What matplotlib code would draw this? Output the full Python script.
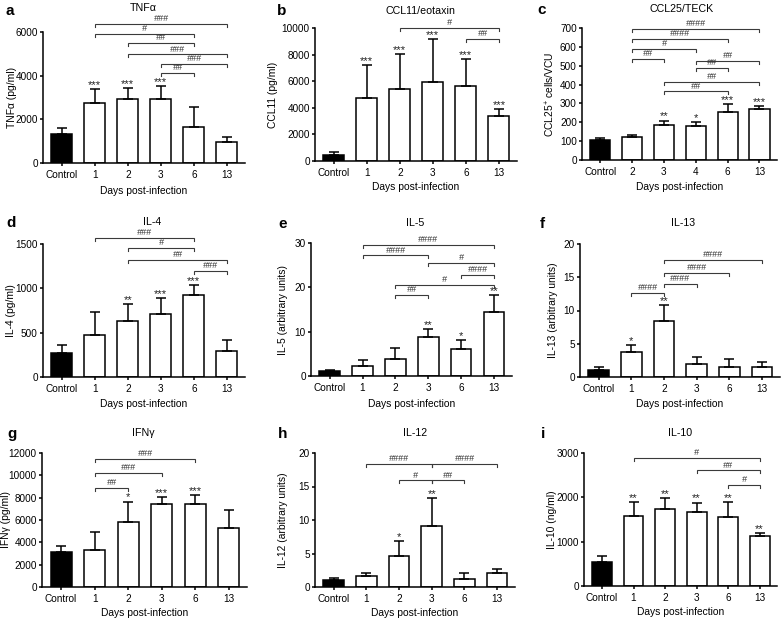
import numpy as np
import matplotlib
matplotlib.use('Agg')
import matplotlib.pyplot as plt

plt.rcParams['font.family'] = ['Liberation Sans', 'DejaVu Sans']
plt.rcParams['mathtext.fontset'] = 'custom'
plt.rcParams['mathtext.rm'] = 'Liberation Sans'
plt.rcParams['mathtext.it'] = 'Liberation Sans:italic'
plt.rcParams['mathtext.bf'] = 'Liberation Sans:bold'

# ---------------- data ----------------
days_std = ['Control', '1', '2', '3', '6', '13']
days_ccl25 = ['Control', '2', '3', '4', '6', '13']

tnf_mean = [1340, 2770, 2950, 2920, 1670, 940]
tnf_err = [260, 600, 470, 610, 880, 230]
tnf_stars = ['', '***', '***', '***', '', '']
tnf_comp = [(1, 5, '###'), (1, 4, '#'), (2, 4, '##'), (2, 5, '###'), (3, 5, '###'), (3, 4, '##')]
tnf_comp_y = [6380, 5920, 5500, 4970, 4555, 4130]

ccl11_mean = [480, 4760, 5420, 5920, 5640, 3375]
ccl11_err = [200, 2440, 2640, 3250, 2015, 530]
ccl11_stars = ['', '***', '***', '***', '***', '***']
ccl11_comp = [(2, 5, '#'), (4, 5, '##')]
ccl11_comp_y = [10000, 9170]

ccl25_mean = [108, 120, 187, 178, 255, 269]
ccl25_err = [10, 10, 22, 22, 42, 17]
ccl25_stars = ['', '', '**', '*', '***', '***']
ccl25_comp = [(1, 5, '####'), (1, 4, '####'), (1, 3, '#'), (1, 2, '##'), (3, 5, '##'),
              (3, 4, '##'), (2, 5, '##'), (2, 4, '##')]
ccl25_comp_y = [695, 643, 589, 536, 527, 488, 412, 364]

il4_mean = [267, 477, 628, 711, 925, 297]
il4_err = [98, 260, 192, 176, 113, 120]
il4_stars = ['', '', '**', '***', '***', '']
il4_comp = [(1, 4, '###'), (2, 4, '#'), (2, 5, '##'), (4, 5, '###')]
il4_comp_y = [1568, 1455, 1323, 1200]

il5_mean = [1.1, 2.3, 3.8, 8.9, 6.0, 14.5]
il5_err = [0.3, 1.2, 2.6, 1.6, 2.1, 3.7]
il5_stars = ['', '', '', '**', '*', '**']
il5_comp = [(1, 5, '####'), (1, 3, '####'), (3, 5, '#'), (4, 5, '####'), (2, 5, '#'), (2, 3, '##')]
il5_comp_y = [29.5, 27.2, 25.5, 22.8, 20.6, 18.2]

il13_mean = [1.0, 3.8, 8.45, 2.0, 1.5, 1.5]
il13_err = [0.55, 1.05, 2.35, 0.95, 1.15, 0.75]
il13_stars = ['', '*', '**', '', '', '']
il13_comp = [(2, 5, '####'), (2, 4, '####'), (2, 3, '####'), (1, 2, '####')]
il13_comp_y = [17.6, 15.6, 14.0, 12.6]

ifng_mean = [3150, 3330, 5820, 7410, 7410, 5250]
ifng_err = [540, 1560, 1830, 630, 810, 1620]
ifng_stars = ['', '', '*', '***', '***', '']
ifng_comp = [(1, 4, '###'), (1, 3, '###'), (1, 2, '##')]
ifng_comp_y = [11460, 10200, 8850]

il12_mean = [1.0, 1.65, 4.6, 9.15, 1.25, 2.1]
il12_err = [0.35, 0.45, 2.2, 4.1, 0.9, 0.6]
il12_stars = ['', '', '*', '**', '', '']
il12_comp = [(1, 3, '####'), (3, 5, '####'), (2, 3, '#'), (3, 4, '##')]
il12_comp_y = [18.35, 18.35, 15.9, 15.9]

il10_mean = [535, 1568, 1748, 1673, 1552, 1130]
il10_err = [150, 330, 240, 210, 340, 60]
il10_stars = ['', '**', '**', '**', '**', '**']
il10_comp = [(1, 5, '#'), (3, 5, '##'), (4, 5, '#')]
il10_comp_y = [2886, 2607, 2283]

# ---------------- layout ----------------
W, H = 784, 620
fig = plt.figure(figsize=(W / 100, H / 100), dpi=100)

panels = [
    dict(letter='a', title='TNFα', ylabel='TNFα (pg/ml)', cats=days_std, mean=tnf_mean, err=tnf_err,
         stars=tnf_stars, comp=tnf_comp, comp_y=tnf_comp_y, ymax=6000, ystep=2000,
         box=(43, 245, 32, 163), lpos=(6, 15), tpos=(143, 11), ylx=12, xly=191),
    dict(letter='b', title='CCL11/eotaxin', ylabel='CCL11 (pg/ml)', cats=days_std, mean=ccl11_mean, err=ccl11_err,
         stars=ccl11_stars, comp=ccl11_comp, comp_y=ccl11_comp_y, ymax=10000, ystep=2000,
         box=(315, 517, 28, 161), lpos=(277, 15), tpos=(420, 14), ylx=273, xly=187),
    dict(letter='c', title='CCL25/TECK', ylabel='CCL25$^{+}$ cells/VCU', cats=days_ccl25, mean=ccl25_mean, err=ccl25_err,
         stars=ccl25_stars, comp=ccl25_comp, comp_y=ccl25_comp_y, ymax=700, ystep=100,
         box=(582, 777, 28, 160), lpos=(537, 14), tpos=(682, 12), ylx=550, xly=187),
    dict(letter='d', title='IL-4', ylabel='IL-4 (pg/ml)', cats=days_std, mean=il4_mean, err=il4_err,
         stars=il4_stars, comp=il4_comp, comp_y=il4_comp_y, ymax=1500, ystep=500,
         box=(43, 245, 244, 377), lpos=(6, 227), tpos=(152, 225), ylx=11, xly=404),
    dict(letter='e', title='IL-5', ylabel='IL-5 (arbitrary units)', cats=days_std, mean=il5_mean, err=il5_err,
         stars=il5_stars, comp=il5_comp, comp_y=il5_comp_y, ymax=30, ystep=10,
         box=(311, 512, 243, 376), lpos=(278, 228), tpos=(415, 226), ylx=283, xly=404),
    dict(letter='f', title='IL-13', ylabel='IL-13 (arbitrary units)', cats=days_std, mean=il13_mean, err=il13_err,
         stars=il13_stars, comp=il13_comp, comp_y=il13_comp_y, ymax=20, ystep=5,
         box=(580, 780, 244, 377), lpos=(540, 228), tpos=(683, 226), ylx=553, xly=404),
    dict(letter='g', title='IFNγ', ylabel='IFNγ (pg/ml)', cats=days_std, mean=ifng_mean, err=ifng_err,
         stars=ifng_stars, comp=ifng_comp, comp_y=ifng_comp_y, ymax=12000, ystep=2000,
         box=(42, 247, 453, 587), lpos=(7, 438), tpos=(143, 436), ylx=6, xly=613),
    dict(letter='h', title='IL-12', ylabel='IL-12 (arbitrary units)', cats=days_std, mean=il12_mean, err=il12_err,
         stars=il12_stars, comp=il12_comp, comp_y=il12_comp_y, ymax=20, ystep=5,
         box=(315, 515, 453, 587), lpos=(278, 438), tpos=(415, 436), ylx=283, xly=613),
    dict(letter='i', title='IL-10', ylabel='IL-10 (ng/ml)', cats=days_std, mean=il10_mean, err=il10_err,
         stars=il10_stars, comp=il10_comp, comp_y=il10_comp_y, ymax=3000, ystep=1000,
         box=(584, 777, 453, 586), lpos=(541, 438), tpos=(680, 436), ylx=552, xly=612),
]

TICK_FS = 7.2
LABEL_FS = 7.4
TITLE_FS = 7.7
LW = 1.1
bracket_col = '#3a3a3a'


def fy(y):
    return 1 - y / H


for p in panels:
    l, r, t, b = p['box']
    ax = fig.add_axes([l / W, 1 - b / H, (r - l) / W, (b - t) / H])
    x = np.arange(len(p['cats']))
    mean = np.array(p['mean'], dtype=float)
    err = np.array(p['err'], dtype=float)
    colors = ['black'] + ['white'] * (len(x) - 1)
    ax.errorbar(x, mean, yerr=[np.zeros_like(err), err], fmt='none', ecolor='black',
                elinewidth=LW, capsize=3.6, capthick=LW, zorder=3, clip_on=False)
    ax.bar(x, mean, width=0.63, color=colors, edgecolor='black', linewidth=LW, zorder=2)

    ax.set_xlim(-0.57, len(x) - 1 + 0.55)
    ax.set_ylim(0, p['ymax'])
    ax.set_yticks(np.arange(0, p['ymax'] + p['ystep'] / 2, p['ystep']))
    ax.set_xticks(x)
    ax.set_xticklabels(p['cats'])
    for s in ['top', 'right']:
        ax.spines[s].set_visible(False)
    for s in ['left', 'bottom']:
        ax.spines[s].set_linewidth(LW)
    ax.tick_params(axis='both', direction='out', length=2.5, width=LW, labelsize=TICK_FS, pad=1.2)
    ax.tick_params(axis='x', pad=2.5)
    ax.patch.set_visible(False)

    # significance stars
    for xi, m, e, s in zip(x, mean, err, p['stars']):
        if s:
            ax.annotate(s, (xi, m + e), xytext=(0, -0.6), textcoords='offset points',
                        ha='center', va='bottom', fontsize=8, color='#222222', annotation_clip=False)

    # comparison brackets
    tick_h = 3.0 / ((b - t)) * p['ymax']
    for (i, j, lab), yv in zip(p['comp'], p['comp_y']):
        ax.plot([i, i, j, j], [yv - tick_h, yv, yv, yv - tick_h], color=bracket_col,
                lw=0.8, clip_on=False, zorder=4, solid_joinstyle='miter')
        ax.annotate(lab, ((i + j) / 2, yv), xytext=(0, 0.6), textcoords='offset points',
                    ha='center', va='bottom', fontsize=6.5, style='italic', color='#333333',
                    annotation_clip=False)

    # texts
    fig.text(p['lpos'][0] / W, fy(p['lpos'][1]), p['letter'], fontsize=11, fontweight='bold',
             ha='left', va='baseline')
    fig.text(p['tpos'][0] / W, fy(p['tpos'][1]), p['title'], fontsize=TITLE_FS, ha='center', va='baseline')
    fig.text(p['ylx'] / W, fy((t + b) / 2), p['ylabel'], fontsize=LABEL_FS, rotation=90,
             ha='center', va='center')
    fig.text(((l + r) / 2) / W, fy(p['xly']), 'Days post-infection', fontsize=LABEL_FS,
             ha='center', va='center')

fig.savefig('out.png', dpi=100)
